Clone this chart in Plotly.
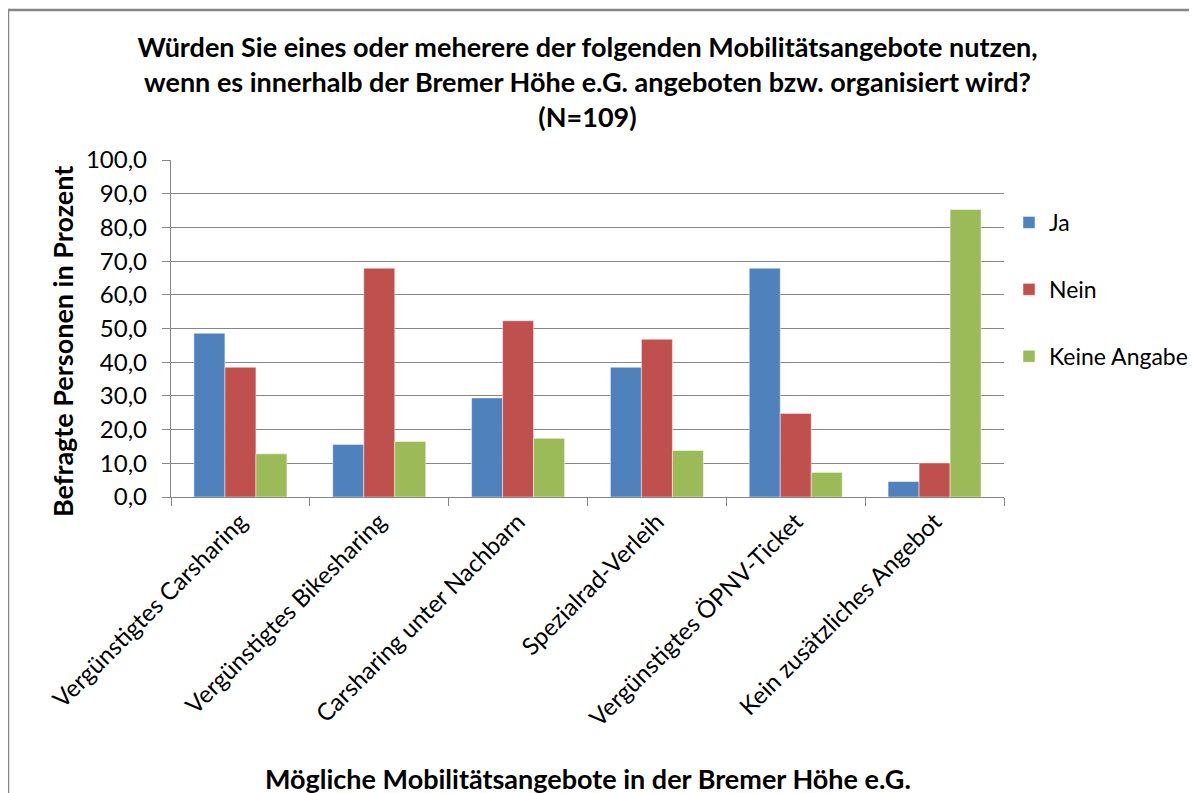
import plotly.graph_objects as go

categories = [
    "Vergünstigtes Carsharing",
    "Vergünstigtes Bikesharing",
    "Carsharing unter Nachbarn",
    "Spezialrad-Verleih",
    "Vergünstigtes ÖPNV-Ticket",
    "Kein zusätzliches Angebot",
]
ja = [48.6, 15.6, 29.4, 38.5, 67.9, 4.6]
nein = [38.5, 67.9, 52.3, 46.8, 24.8, 10.1]
keine_angabe = [12.8, 16.5, 17.4, 13.8, 7.3, 85.3]

series = [("Ja", ja, "#4F81BD"), ("Nein", nein, "#C0504D"), ("Keine Angabe", keine_angabe, "#9BBB59")]

FONT = "Lato"
OFF = 8  # page body margin
fig = go.Figure()
for i, (name, vals, col) in enumerate(series):
    fig.add_trace(go.Bar(
        x=categories, y=vals, name=name, legendgroup=f"g{i}",
        marker=dict(color=col, line=dict(color="rgba(255,255,255,0.6)", width=0.8)),
    ))

W, H = 1197, 793
L, R, T, B = 171 - OFF, 1004 - OFF, 160 - OFF, 497 - OFF
pw, ph = R - L, B - T

def px(xp):
    return (xp - OFF - L) / pw

def py(yp):
    return (B - (yp - OFF)) / ph

fig.update_layout(
    width=W, height=H,
    margin=dict(l=L, r=W - R, t=T, b=H - B),
    paper_bgcolor="white", plot_bgcolor="white",
    separators=",.",
    barmode="group", bargap=0.33, bargroupgap=0,
    font=dict(family=FONT, color="black"),
    title=dict(
        text="Würden Sie eines oder meherere der folgenden Mobilitätsangebote nutzen,<br>"
             "wenn es innerhalb der Bremer Höhe e.G. angeboten bzw. organisiert wird?<br>(N=109)",
        x=0.5, xref="paper", xanchor="center", y=1 - (57 - OFF) / H, yanchor="top",
        font=dict(family=FONT, size=27, color="black", weight="bold"),
    ),
    legend=dict(
        x=px(1009), xanchor="left", y=py(201), yanchor="top",
        font=dict(family=FONT, size=23, color="black"),
        tracegroupgap=34, itemwidth=30,
        bgcolor="rgba(0,0,0,0)",
    ),
    xaxis=dict(
        type="category", tickson="boundaries", ticks="outside", ticklen=8,
        tickcolor="#868686", tickwidth=1.3,
        showline=True, linecolor="#868686", linewidth=1.3,
        tickangle=-45, tickfont=dict(family=FONT, size=24, color="black"),
        showgrid=False,
    ),
    yaxis=dict(
        range=[0, 100], dtick=10, tickformat=".1f",
        ticks="outside", ticklen=8, tickcolor="#868686", tickwidth=1.3,
        ticklabelstandoff=10,
        showline=True, linecolor="#868686", linewidth=1.3,
        showgrid=True, gridcolor="#868686", gridwidth=1.3,
        zeroline=False,
        tickfont=dict(family=FONT, size=24, color="black"),
    ),
    annotations=[
        dict(text="<b>Mögliche Mobilitätsangebote in der Bremer Höhe e.G.</b>",
             xref="paper", yref="paper", x=0.5, y=py(778), xanchor="center", yanchor="middle",
             showarrow=False, font=dict(family=FONT, size=27, color="black")),
        dict(text="<b>Befragte Personen in Prozent</b>",
             xref="paper", yref="paper", x=px(62), y=py(342), xanchor="center", yanchor="middle",
             textangle=-90, showarrow=False, font=dict(family=FONT, size=27, color="black")),
    ],
    shapes=[dict(
        type="rect", xref="paper", yref="paper",
        x0=px(8), x1=px(1240), y0=py(840), y1=py(10),
        line=dict(color="#868686", width=2.5), fillcolor="rgba(0,0,0,0)", layer="below",
    )],
)

fig.write_html("out.html")
